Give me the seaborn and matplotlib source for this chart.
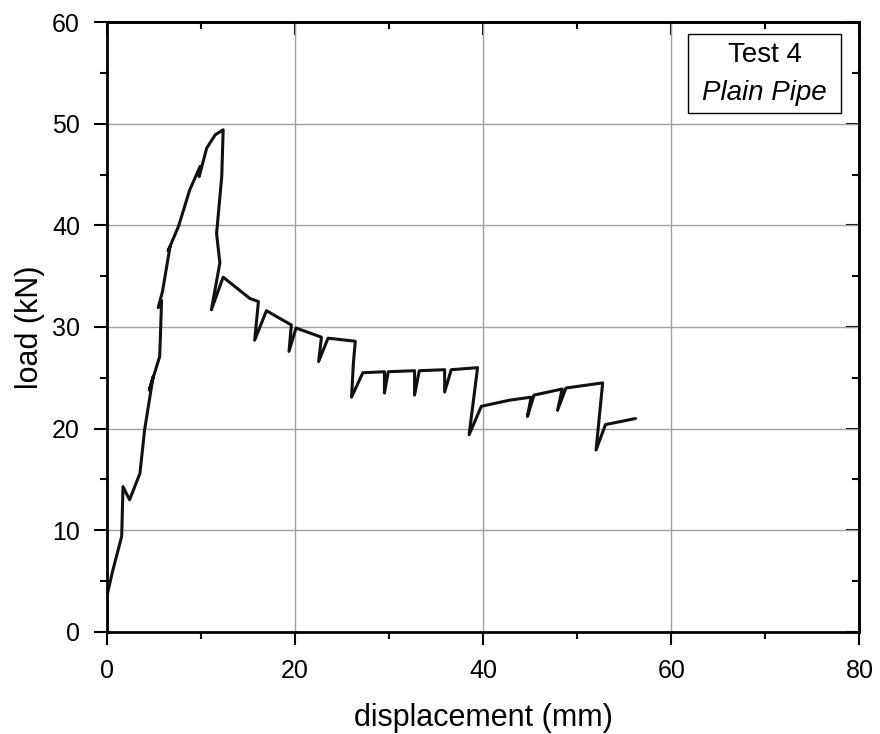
import pandas as pd
import matplotlib.pyplot as plt
import seaborn as sns
from matplotlib.ticker import MultipleLocator

# displacement (mm) and load (kN) traced from the test record
displacement = [0.0, 0.0, 0.6, 1.56, 1.7, 2.4, 3.5, 4.0, 4.9, 4.5, 5.6, 5.7,
                5.8, 5.45, 5.9, 6.7, 6.5, 7.6, 8.8, 9.9, 9.8, 10.6, 11.5, 12.35,
                12.2, 11.65, 12.0, 11.1, 12.35, 15.2, 16.1, 15.7, 16.95, 19.6,
                19.35, 20.1, 22.8, 22.5, 23.5, 26.4, 26.2, 26.0, 27.2, 29.5,
                29.5, 29.9, 32.7, 32.7, 33.2, 35.9, 35.9, 36.6, 39.4, 38.5,
                39.8, 42.8, 45.1, 44.7, 45.4, 48.4, 47.9, 48.8, 52.7, 52.0,
                53.0, 56.2]
load = [0.0, 3.6, 6.0, 9.4, 14.3, 13.0, 15.6, 19.9, 25.1, 23.8, 27.1, 29.7,
        32.6, 31.9, 33.5, 37.9, 37.5, 39.9, 43.5, 45.8, 44.8, 47.6, 48.9, 49.4,
        44.8, 39.2, 36.3, 31.7, 34.9, 32.8, 32.5, 28.7, 31.6, 30.2,
        27.6, 29.9, 29.0, 26.6, 28.9, 28.6, 26.5, 23.1, 25.5, 25.6,
        23.5, 25.6, 25.7, 23.3, 25.7, 25.8, 23.6, 25.8, 26.0, 19.4,
        22.2, 22.8, 23.1, 21.2, 23.3, 23.9, 21.8, 24.0, 24.5, 17.9,
        20.4, 21.0]

df = pd.DataFrame({'displacement': displacement, 'load': load})

sns.set_style('white')
plt.rcParams['font.family'] = ['Liberation Sans', 'DejaVu Sans']
plt.rcParams['text.color'] = 'black'
plt.rcParams['axes.labelcolor'] = 'black'
plt.rcParams['xtick.color'] = 'black'
plt.rcParams['ytick.color'] = 'black'

fig = plt.figure(figsize=(8.8, 7.34), dpi=100)
ax = fig.add_axes([0.1216, 0.139, 0.855, 0.831])

sns.lineplot(data=df, x='displacement', y='load', sort=False, estimator=None,
             color='#111111', linewidth=2.2, ax=ax)

ax.set_xlim(0, 80)
ax.set_ylim(0, 60)
ax.xaxis.set_major_locator(MultipleLocator(20))
ax.xaxis.set_minor_locator(MultipleLocator(10))
ax.yaxis.set_major_locator(MultipleLocator(10))
ax.yaxis.set_minor_locator(MultipleLocator(5))
ax.grid(True, which='major', color='#a0a0a0', linewidth=1)
ax.tick_params(which='both', direction='out', bottom=True, left=True,
               width=1.5, labelsize=18)
ax.tick_params(which='major', length=9.5, pad=10)
ax.tick_params(which='minor', length=5)
for s in ax.spines.values():
    s.set_linewidth(2)
    s.set_color('black')

# mirrored inward ticks on top and right
top = ax.secondary_xaxis('top')
top.xaxis.set_major_locator(MultipleLocator(20))
top.xaxis.set_minor_locator(MultipleLocator(10))
top.tick_params(which='both', direction='in', top=True, width=1.5, labeltop=False)
top.tick_params(which='major', length=9.5)
top.tick_params(which='minor', length=5)
right = ax.secondary_yaxis('right')
right.yaxis.set_major_locator(MultipleLocator(10))
right.yaxis.set_minor_locator(MultipleLocator(5))
right.tick_params(which='both', direction='in', right=True, width=1.5, labelright=False)
right.tick_params(which='major', length=9.5)
right.tick_params(which='minor', length=5)
for sec in (top, right):
    for s in sec.spines.values():
        s.set_linewidth(2)

ax.set_xlabel('displacement (mm)', fontsize=22, labelpad=14)
ax.set_ylabel('load (kN)', fontsize=22, labelpad=5)

ax.add_patch(plt.Rectangle((0.772, 0.851), 0.204, 0.129, transform=ax.transAxes,
                           facecolor='white', edgecolor='black',
                           linewidth=1, zorder=3))
ax.text(0.874, 0.946, 'Test 4', transform=ax.transAxes, ha='center',
        va='center', fontsize=20, zorder=4)
ax.text(0.874, 0.884, 'Plain Pipe', transform=ax.transAxes, ha='center',
        va='center', fontsize=20, style='italic', zorder=4)

fig.savefig('out.png', dpi=100)
